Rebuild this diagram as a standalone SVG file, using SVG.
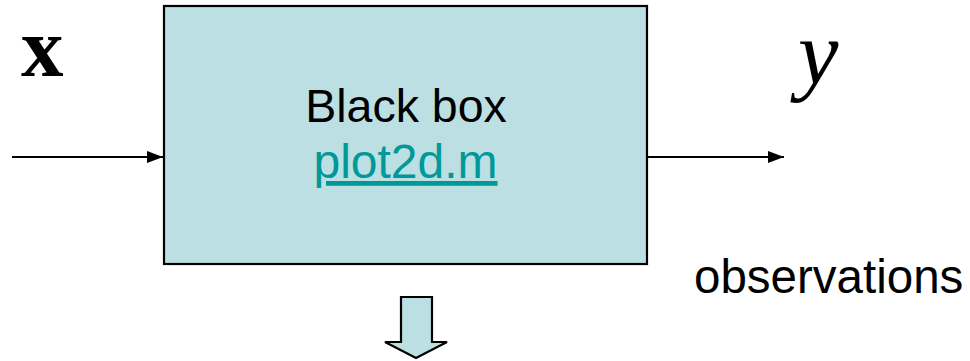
<svg xmlns="http://www.w3.org/2000/svg" width="970" height="361" viewBox="0 0 970 361">
  <style>
    .sans { font-family: "Liberation Sans", Arial, sans-serif; }
    .serif { font-family: "Liberation Serif", "Times New Roman", serif; }
    .shape { fill: #BBDFE2; stroke: #000; stroke-width: 2.2; }
    .wire { stroke: #000; stroke-width: 2; fill: none; }
  </style>
  <defs>
    <marker id="head" viewBox="0 0 16 12" refX="16" refY="6" markerWidth="16" markerHeight="12" markerUnits="userSpaceOnUse" orient="auto">
      <path d="M0,0 L16,6 L0,12 Z" fill="#000"/>
    </marker>
  </defs>

  <g id="connectors">
    <line class="wire" x1="12" y1="157" x2="163" y2="157" marker-end="url(#head)"/>
    <line class="wire" x1="648" y1="157" x2="784" y2="157" marker-end="url(#head)"/>
  </g>

  <g id="black-box">
    <rect class="shape" x="164" y="6" width="483" height="258"/>
    <text class="sans" x="406" y="122" font-size="46.5" text-anchor="middle" fill="#000">Black box</text>
    <text class="sans" x="405.5" y="178" font-size="48" text-anchor="middle" fill="#009999" text-decoration="underline">plot2d.m</text>
  </g>

  <g id="input-label">
    <text class="serif" x="21" y="76" font-size="85" font-weight="bold" fill="#000">x</text>
  </g>

  <g id="output-label">
    <text class="serif" x="798" y="84" font-size="91" font-style="italic" fill="#000">y</text>
  </g>

  <g id="observations">
    <text class="sans" x="694" y="293" font-size="47.5" fill="#000">observations</text>
  </g>

  <g id="down-arrow">
    <path class="shape" d="M401,297 L432,297 L432,342 L447,342 L416,358 L385,342 L401,342 Z"/>
  </g>
</svg>
